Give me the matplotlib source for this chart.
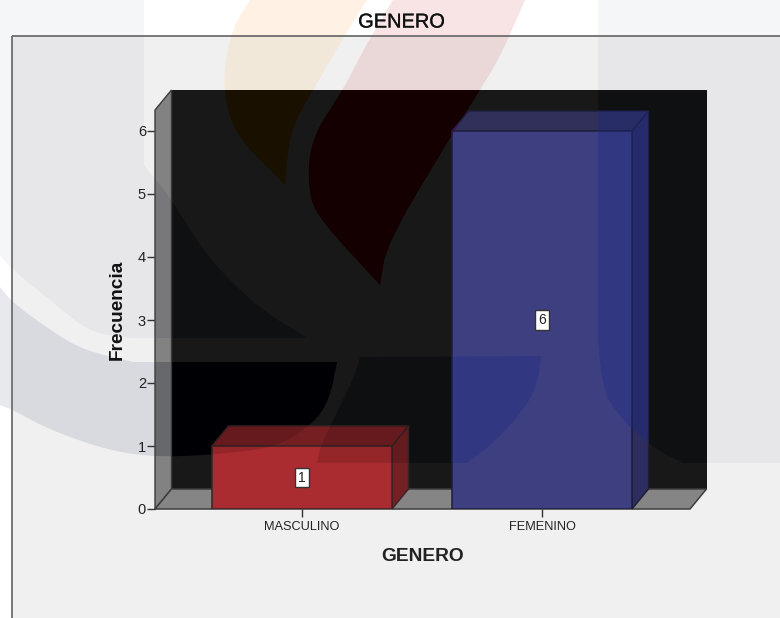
import matplotlib
matplotlib.use("Agg")
import matplotlib.pyplot as plt
import matplotlib.patheffects as pe
from matplotlib.patches import Polygon, Rectangle
from matplotlib.transforms import Affine2D

categorias = ["MASCULINO", "FEMENINO"]
frecuencia = [1, 6]
y_ticks = [0, 1, 2, 3, 4, 5, 6]

# bar colours: front, top, side
frente = ["#ab2c30", "#3e3f80"]
arriba = ["#761f22", "#30305a"]
lado = ["#722022", "#2d2d60"]
borde = ["#3a2426", "#1e1e3c"]


def smooth(pts, n=3):
    # corner cutting, keeps both ends of the piece
    for _ in range(n):
        out = [pts[0]]
        for a, b in zip(pts[:-1], pts[1:]):
            out.append((0.75 * a[0] + 0.25 * b[0], 0.75 * a[1] + 0.25 * b[1]))
            out.append((0.25 * a[0] + 0.75 * b[0], 0.25 * a[1] + 0.75 * b[1]))
        out.append(pts[-1])
        pts = out
    return pts


# watermark behind the chart, traced in image pixels
orange = smooth([(250, 0), (233, 27), (223, 73), (227, 110), (240, 140), (285, 185)]) + \
    smooth([(285, 185), (290, 130), (313, 90), (348, 30), (367, 0)])
red = smooth([(393, 0), (367, 43), (343, 90), (310, 140), (308, 193), (320, 220), (380, 285)]) + \
    smooth([(380, 285), (387, 243), (453, 133), (480, 90), (500, 57), (525, 0)])
left = [(0, 0), (144, 0)] + smooth([(144, 165), (172, 200), (207, 257), (257, 307), (307, 338)]) + \
    smooth([(133, 338), (90, 333), (50, 300), (13, 270), (0, 255)])
lower = smooth([(0, 287), (13, 303), (50, 330), (83, 350), (133, 362)]) + \
    smooth([(337, 362), (330, 397), (317, 420), (280, 447), (212, 455), (153, 457), (107, 450), (50, 430),
            (13, 410), (0, 405)])
mid = [(360, 357)] + smooth([(541, 356), (537, 387), (523, 410), (497, 440), (467, 463)]) + \
    smooth([(317, 463), (320, 447), (343, 400), (355, 375), (360, 357)])
right = [(598, 0), (780, 0), (780, 463)] + smooth([(683, 463), (657, 450), (633, 430), (617, 413), (603, 390), (598, 340)])
shapes = {"orange": orange, "red": red, "left": left, "lower": lower, "mid": mid, "right": right}

tint_page = {"orange": "#fff2e4", "red": "#f8e4e4", "left": "#f5f6f8", "lower": "#e8e9ee", "right": "#f5f6f8"}
tint_box = {"orange": "#f2e8da", "red": "#ead8d8", "left": "#e7e7ea", "lower": "#d9dadf", "right": "#e7e7ea"}
tint_wall = {"orange": "#191000", "red": "#140000", "left": "#0e1012", "lower": "#000004",
             "mid": "#0e0f11", "right": "#0e1012"}
tint_side = {"left": "#78787c", "lower": "#67686c"}

plt.rcParams["font.family"] = ["Liberation Sans", "DejaVu Sans"]
W, H = 780, 618
fig = plt.figure(figsize=(W / 100, H / 100), dpi=100, facecolor="white")
ax = fig.add_axes([155 / W, (H - 509) / H, 535 / W, 399 / H])
ax.patch.set_visible(False)
ax.set_axisbelow(False)
for s in ax.spines.values():
    s.set_visible(False)

x0, x1 = (155 - 302) / 240, (690 - 302) / 240
ymax = 399 / 63
dx, dy = 16.5 / 240, 20 / 63
ax.set_xlim(x0, x1)
ax.set_ylim(0, ymax)

px = Affine2D().scale(1, -1).translate(0, H)  # image pixels to display


def paint(tints, z, clip=None):
    for name, col in tints.items():
        p = Polygon(shapes[name], closed=True, fc=col, ec="none", transform=px, zorder=z, clip_on=False)
        ax.add_patch(p)
        if clip is not None:
            p.set_clip_on(True)
            p.set_clip_path(clip)


paint(tint_page, 1)

box = Rectangle((12, 36), W, H, fc="#f0f0f0", ec="none", transform=px, zorder=1.5, clip_on=False)
ax.add_patch(box)
paint(tint_box, 1.6, box)
ax.add_patch(Rectangle((12, 36), W, H, fc="none", ec="#6e6e6e", lw=1.3, transform=px, zorder=1.7, clip_on=False))

# 3d walls
back = Rectangle((x0 + dx, dy), x1 - x0, ymax, fc="#181818", ec="none", zorder=3, clip_on=False)
ax.add_patch(back)
paint(tint_wall, 3.1, back)

pared = Polygon([(x0, 0), (x0 + dx, dy), (x0 + dx, ymax + dy), (x0, ymax)], fc="#828282", ec="none",
                zorder=3.2, clip_on=False)
ax.add_patch(pared)
paint(tint_side, 3.3, pared)
ax.add_patch(Polygon([(x0, 0), (x0 + dx, dy), (x0 + dx, ymax + dy), (x0, ymax)], fc="none", ec="#3c3c3c", lw=1,
                     zorder=3.4, clip_on=False))
ax.add_patch(Polygon([(x0, 0), (x1, 0), (x1 + dx, dy), (x0 + dx, dy)], fc="#858585", ec="#3c3c3c", lw=1.1,
                     zorder=3.4, clip_on=False))

# bars
ancho = 0.75
pos = list(range(len(categorias)))
ax.bar(pos, frecuencia, width=ancho, color=frente, edgecolor=borde, linewidth=1.1, zorder=6)
for i, v in zip(pos, frecuencia):
    a, b = i - ancho / 2, i + ancho / 2
    ax.add_patch(Polygon([(a, v), (b, v), (b + dx, v + dy), (a + dx, v + dy)], fc=arriba[i], ec=borde[i], lw=1,
                         zorder=5, clip_on=False))
    ax.add_patch(Polygon([(b, 0), (b + dx, dy), (b + dx, v + dy), (b, v)], fc=lado[i], ec=borde[i], lw=1,
                         zorder=5, clip_on=False))
    sil = Polygon([(a, 0), (b, 0), (b + dx, dy), (b + dx, v + dy), (a + dx, v + dy), (a, v)], fc="none", ec="none",
                  zorder=1, clip_on=False)
    ax.add_patch(sil)
    nombres = ["lower", "mid"] if i == 0 else ["red", "mid", "right"]
    for n in nombres:
        if i == 0:
            col, al = "#000000", 0.13
        else:
            col, al = ("#1a2a80", 0.35) if n != "red" else ("#5a0050", 0.5)
        p = Polygon(shapes[n], closed=True, fc=col, ec="none", alpha=al, transform=px, zorder=7)
        ax.add_patch(p)
        p.set_clip_path(sil)
    ax.text(i, v / 2, str(v), ha="center", va="center", fontsize=10, color="#222222", zorder=9,
            bbox=dict(boxstyle="square,pad=0.2", fc="white", ec="#333333", lw=1))

ax.set_xticks(pos)
ax.set_xticklabels(categorias)
ax.set_yticks(y_ticks)
ax.tick_params(axis="x", length=5.5, width=1, color="#333333", labelsize=9.2, labelcolor="#222222", pad=3)
ax.tick_params(axis="y", length=5.5, width=1, color="#333333", labelsize=10.5, labelcolor="#222222", pad=1)
ax.set_xlabel("GENERO", fontsize=13.8, fontweight="bold", color="#222222", labelpad=11)
ax.set_ylabel("Frecuencia", fontsize=13.7, fontweight="bold", color="#111111")
ax.yaxis.set_label_coords((126 - 155) / 535, (509 - 310) / 399)

fig.text(401.5 / W, 1 - 22 / H, "GENERO", ha="center", va="center", fontsize=14.4, color="#111111",
         path_effects=[pe.withStroke(linewidth=0.2, foreground="#111111")])

fig.savefig("out.png", dpi=100)
